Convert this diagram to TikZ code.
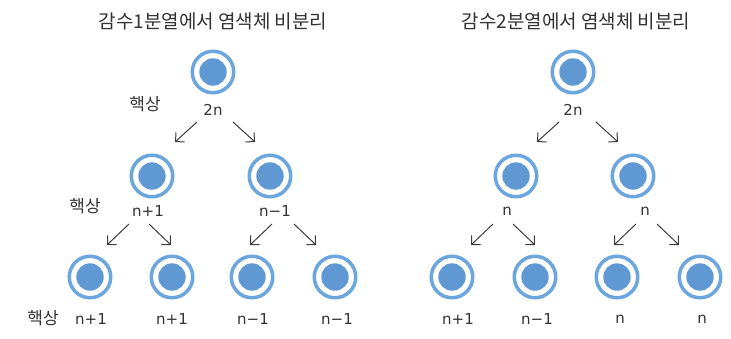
\documentclass[tikz,border=0pt]{standalone}
\usepackage{fontspec}
\setmainfont{DejaVu Sans}
\newfontfamily\kr{Noto Sans CJK KR}
\usetikzlibrary{arrows.meta}
\definecolor{ringc}{RGB}{108,166,222}
\definecolor{fillc}{RGB}{96,152,212}
\definecolor{txt}{RGB}{50,50,50}
\definecolor{arr}{RGB}{60,60,60}
\tikzset{
  cell/.style={circle,draw=ringc,line width=3.5pt,minimum size=41.5pt,inner sep=0pt,
    path picture={\fill[fillc] (path picture bounding box.center) circle (13.7pt);}},
  lab/.style={text=txt,font=\fontsize{15}{15}\selectfont,inner sep=0pt},
  ttl/.style={text=txt,font=\kr\fontsize{19}{19}\selectfont,inner sep=0pt},
  klab/.style={text=txt,font=\kr\fontsize{17}{17}\selectfont,inner sep=0pt},
  ar/.style={draw=arr,line width=1pt,-{Straight Barb[length=6.5pt,width=13pt]}}
}
\begin{document}
\begin{tikzpicture}[x=1pt,y=-1pt]
\useasboundingbox (0,0) rectangle (731,338);
% titles
\node[ttl] (t1) at (213,21) {감수1분열에서 염색체 비분리};
\node[ttl] (t2) at (576,21) {감수2분열에서 염색체 비분리};
% left tree
\node[cell] (a) at (213,72) {};
\node[lab] (al) at (213,110) {2n};
\node[klab] (h1) at (145,104) {핵상};
\node[cell] (b1) at (152,176) {};
\node[cell] (b2) at (270,176) {};
\node[lab] (b1l) at (148,211) {n+1};
\node[lab] (b2l) at (275,211) {n−1};
\node[klab] (h2) at (85,206) {핵상};
\node[cell] (c1) at (90,277) {};
\node[cell] (c2) at (172,277) {};
\node[cell] (c3) at (252,277) {};
\node[cell] (c4) at (335,277) {};
\node[lab] (c1l) at (91,319) {n+1};
\node[lab] (c2l) at (172,319) {n+1};
\node[lab] (c3l) at (253,319) {n−1};
\node[lab] (c4l) at (337,319) {n−1};
\node[klab] (h3) at (43,318) {핵상};
% right tree
\node[cell] (d) at (573,72) {};
\node[lab] (dl) at (573,110) {2n};
\node[cell] (e1) at (516,176) {};
\node[cell] (e2) at (633,176) {};
\node[lab] (e1l) at (507,211) {n};
\node[lab] (e2l) at (645,211) {n};
\node[cell] (f1) at (452,277) {};
\node[cell] (f2) at (535,277) {};
\node[cell] (f3) at (617,277) {};
\node[cell] (f4) at (700,277) {};
\node[lab] (f1l) at (458,319) {n+1};
\node[lab] (f2l) at (537,319) {n−1};
\node[lab] (f3l) at (620,319) {n};
\node[lab] (f4l) at (702,319) {n};
% arrow end coordinates
\coordinate (aL0) at (197,122); \coordinate (aL1) at (175,142);
\coordinate (aR0) at (233,122); \coordinate (aR1) at (255,142);
\coordinate (bL0) at (129,224); \coordinate (bL1) at (107,245);
\coordinate (bR0) at (149,224); \coordinate (bR1) at (171,245);
\coordinate (cL0) at (272,224); \coordinate (cL1) at (250,245);
\coordinate (cR0) at (294,224); \coordinate (cR1) at (316,245);
\coordinate (dL0) at (559,122); \coordinate (dL1) at (537,142);
\coordinate (dR0) at (596,122); \coordinate (dR1) at (618,142);
\coordinate (eL0) at (493,224); \coordinate (eL1) at (471,245);
\coordinate (eR0) at (513,224); \coordinate (eR1) at (535,245);
\coordinate (gL0) at (636,224); \coordinate (gL1) at (614,245);
\coordinate (gR0) at (657,224); \coordinate (gR1) at (679,245);
\foreach \s/\t in {aL0/aL1,aR0/aR1,bL0/bL1,bR0/bR1,cL0/cL1,cR0/cR1,dL0/dL1,dR0/dR1,eL0/eL1,eR0/eR1,gL0/gL1,gR0/gR1}
  \draw[ar] (\s) -- (\t);
\end{tikzpicture}
\end{document}
